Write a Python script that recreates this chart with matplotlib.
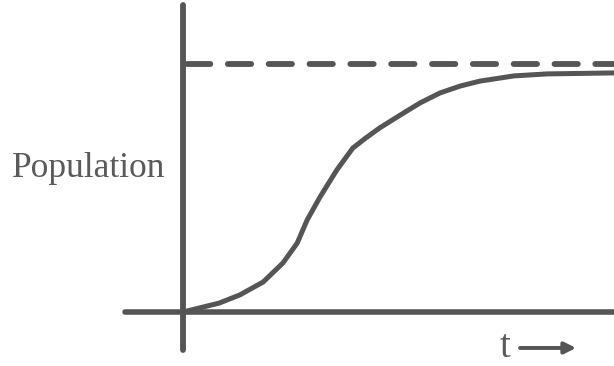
import matplotlib.pyplot as plt

# logistic growth curve (t in arbitrary units, population in % of K)
t_vals = [0, 0.84, 1.32, 1.86, 2.32, 2.65, 2.88, 3.18, 3.57, 3.94, 4.22, 4.57, 5.04,
          5.50, 5.96, 6.43, 6.89, 7.68, 8.45, 10.0]
pop_vals = [0, 3.6, 6.9, 12.1, 19.8, 27.8, 37.1, 46.4, 57.3, 66.1, 69.9, 74.3, 79.4,
            84.3, 88.3, 91.1, 93.1, 95.2, 96.0, 96.4]
carrying_capacity = 100

ink = "#555555"

fig = plt.figure(figsize=(6.14, 3.66), dpi=100)
ax = fig.add_axes([0, 0, 1, 1])
ax.set_xlim(-4.246, 10.0)
ax.set_ylim(-21.77, 125.8)
ax.axis("off")

# axes drawn by hand, like the sketch
ax.plot([-1.35, 10.0], [0, 0], color=ink, lw=4, solid_capstyle="round")
ax.plot([0, 0], [-15.3, 123.8], color=ink, lw=4.2, solid_capstyle="round")

# carrying capacity
ax.plot([0.1, 10.0], [carrying_capacity, carrying_capacity], color=ink, lw=4.2,
        linestyle=(0, (4, 3.0)), dash_capstyle="round")

# growth curve
ax.plot(t_vals, pop_vals, color=ink, lw=3.6, solid_capstyle="round",
        solid_joinstyle="round")

ax.text(-3.97, 54.4, "Population", fontsize=25.5, family="Liberation Serif",
        color="#5a5a5a", ha="left", va="baseline")
ax.text(7.35, -18.1, "t", fontsize=28, family="Liberation Serif",
        color="#5a5a5a", ha="left", va="baseline")
ax.annotate("", xy=(9.12, -14.5), xytext=(7.82, -14.5),
            arrowprops=dict(arrowstyle="-|>", lw=2.8, color=ink,
                            mutation_scale=17, shrinkA=0, shrinkB=0))

fig.savefig("out.png", dpi=100, facecolor="white")
